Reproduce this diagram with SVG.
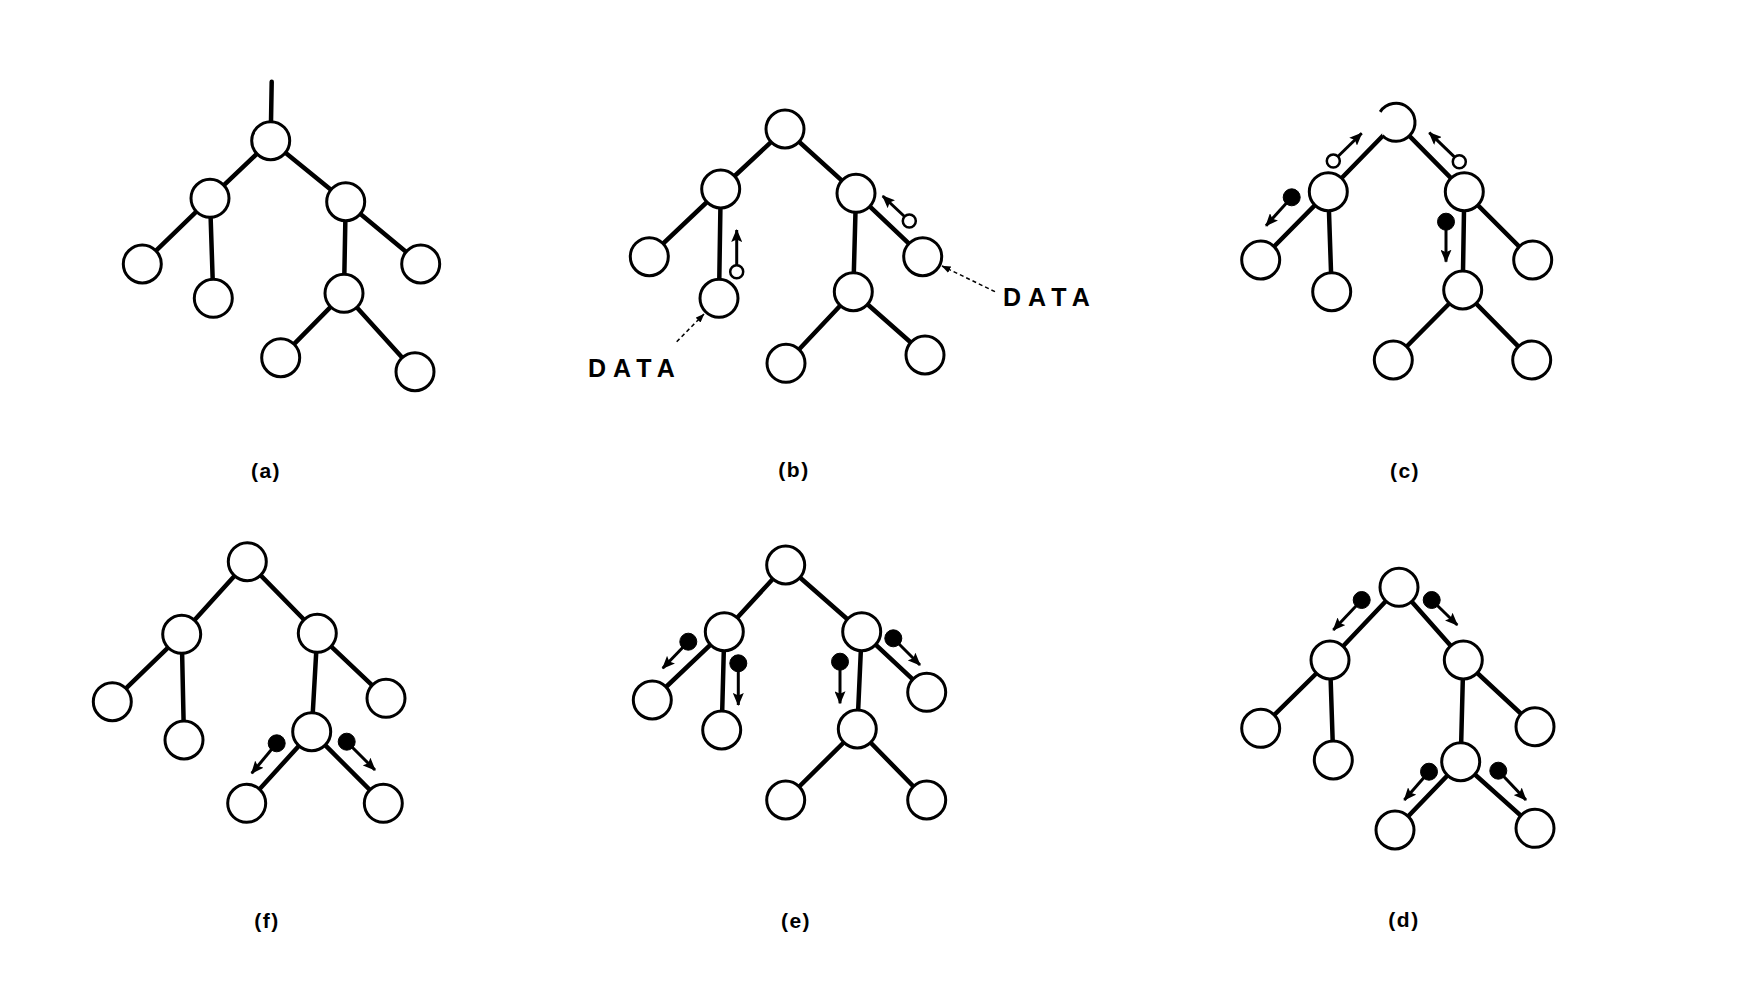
<svg xmlns="http://www.w3.org/2000/svg" width="1764" height="990" viewBox="0 0 1764 990">
<style>
.e{stroke:#000;stroke-width:4.5;stroke-linecap:round;fill:none}
.n{fill:#fff;stroke:#000;stroke-width:3}
.sh{stroke:#000;stroke-width:3;fill:none}
.o{fill:#fff;stroke:#000;stroke-width:2.5}
.f{fill:#000;stroke:#000;stroke-width:1}
.d{stroke:#000;stroke-width:1.5;stroke-dasharray:4 3;fill:none}
.lb{font-family:"Liberation Sans",Arial,sans-serif;font-weight:bold;font-size:21px;letter-spacing:1.5px;text-anchor:middle}
.dt{font-family:"Liberation Sans",Arial,sans-serif;font-weight:bold;font-size:25px;letter-spacing:7px}
</style>
<defs>
<marker id="ah" markerUnits="userSpaceOnUse" markerWidth="13" markerHeight="11" viewBox="0 0 13 11" refX="12" refY="5.5" orient="auto"><path d="M0,0 L13,5.5 L0,11 L2.5,5.5 z" fill="#000"/></marker>
<marker id="ahs" markerUnits="userSpaceOnUse" markerWidth="9" markerHeight="7" viewBox="0 0 9 7" refX="8.5" refY="3.5" orient="auto"><path d="M0,0 L9,3.5 L0,7 z" fill="#000"/></marker>
</defs>
<rect width="1764" height="990" fill="#fff"/>

<g id="connectors">
<!-- (a) -->
<line class="e" x1="271.7" y1="81.7" x2="271" y2="122"/>
<line class="e" x1="270.7" y1="140.7" x2="210" y2="198.3"/>
<line class="e" x1="270.7" y1="140.7" x2="345.7" y2="201.7"/>
<line class="e" x1="210" y1="198.3" x2="142.3" y2="264"/>
<line class="e" x1="210" y1="198.3" x2="213.3" y2="298.3"/>
<line class="e" x1="345.7" y1="201.7" x2="420.7" y2="264"/>
<line class="e" x1="345.7" y1="201.7" x2="344" y2="293.3"/>
<line class="e" x1="344" y1="293.3" x2="280.7" y2="357.7"/>
<line class="e" x1="344" y1="293.3" x2="415" y2="371.7"/>
<!-- (b) -->
<line class="e" x1="785" y1="129" x2="720.7" y2="189"/>
<line class="e" x1="785" y1="129" x2="856" y2="193.3"/>
<line class="e" x1="720.7" y1="189" x2="649.3" y2="256.7"/>
<line class="e" x1="720.7" y1="189" x2="719" y2="298.3"/>
<line class="e" x1="856" y1="193.3" x2="922.7" y2="256.7"/>
<line class="e" x1="856" y1="193.3" x2="853.3" y2="291.7"/>
<line class="e" x1="853.3" y1="291.7" x2="786" y2="363.3"/>
<line class="e" x1="853.3" y1="291.7" x2="925" y2="355"/>
<!-- (c) -->
<line class="e" x1="1396" y1="122.3" x2="1328.3" y2="191.7"/>
<line class="e" x1="1396" y1="122.3" x2="1464.3" y2="191.7"/>
<line class="e" x1="1328.3" y1="191.7" x2="1260.7" y2="260"/>
<line class="e" x1="1328.3" y1="191.7" x2="1331.7" y2="291.7"/>
<line class="e" x1="1464.3" y1="191.7" x2="1532.7" y2="260"/>
<line class="e" x1="1464.3" y1="191.7" x2="1462.7" y2="290"/>
<line class="e" x1="1462.7" y1="290" x2="1393.3" y2="360"/>
<line class="e" x1="1462.7" y1="290" x2="1531.7" y2="360"/>
<!-- (f) -->
<line class="e" x1="247.3" y1="561.7" x2="181.7" y2="634.3"/>
<line class="e" x1="247.3" y1="561.7" x2="317.3" y2="633.3"/>
<line class="e" x1="181.7" y1="634.3" x2="112.3" y2="701.7"/>
<line class="e" x1="181.7" y1="634.3" x2="184" y2="740"/>
<line class="e" x1="317.3" y1="633.3" x2="386" y2="698.3"/>
<line class="e" x1="317.3" y1="633.3" x2="311.7" y2="731.7"/>
<line class="e" x1="311.7" y1="731.7" x2="246.7" y2="803.3"/>
<line class="e" x1="311.7" y1="731.7" x2="383.3" y2="803.3"/>
<!-- (e) -->
<line class="e" x1="785.7" y1="565" x2="724.3" y2="631.7"/>
<line class="e" x1="785.7" y1="565" x2="861.7" y2="631.7"/>
<line class="e" x1="724.3" y1="631.7" x2="652.3" y2="700"/>
<line class="e" x1="724.3" y1="631.7" x2="721.7" y2="730"/>
<line class="e" x1="861.7" y1="631.7" x2="926.7" y2="692.3"/>
<line class="e" x1="861.7" y1="631.7" x2="857.3" y2="729"/>
<line class="e" x1="857.3" y1="729" x2="785.7" y2="800"/>
<line class="e" x1="857.3" y1="729" x2="926.7" y2="800"/>
<!-- (d) -->
<line class="e" x1="1399" y1="587.3" x2="1330" y2="660"/>
<line class="e" x1="1399" y1="587.3" x2="1463.3" y2="660"/>
<line class="e" x1="1330" y1="660" x2="1260.7" y2="728.3"/>
<line class="e" x1="1330" y1="660" x2="1333.3" y2="760"/>
<line class="e" x1="1463.3" y1="660" x2="1535" y2="726.7"/>
<line class="e" x1="1463.3" y1="660" x2="1460.7" y2="761.7"/>
<line class="e" x1="1460.7" y1="761.7" x2="1395" y2="830"/>
<line class="e" x1="1460.7" y1="761.7" x2="1535" y2="828.3"/>
<!-- DATA pointers -->
<line class="d" x1="995" y1="291.7" x2="942" y2="266" marker-end="url(#ahs)"/>
<line class="d" x1="676.7" y1="341.7" x2="704" y2="314" marker-end="url(#ahs)"/>
</g>

<!-- nodes (a) -->
<g id="a-root"><circle class="n" cx="270.7" cy="140.7" r="19"/></g>
<g id="a-l"><circle class="n" cx="210" cy="198.3" r="19"/></g>
<g id="a-r"><circle class="n" cx="345.7" cy="201.7" r="19"/></g>
<g id="a-ll"><circle class="n" cx="142.3" cy="264" r="19"/></g>
<g id="a-lb"><circle class="n" cx="213.3" cy="298.3" r="19"/></g>
<g id="a-rr"><circle class="n" cx="420.7" cy="264" r="19"/></g>
<g id="a-rb"><circle class="n" cx="344" cy="293.3" r="19"/></g>
<g id="a-rbl"><circle class="n" cx="280.7" cy="357.7" r="19"/></g>
<g id="a-rbr"><circle class="n" cx="415" cy="371.7" r="19"/></g>

<!-- nodes (b) -->
<g id="b-root"><circle class="n" cx="785" cy="129" r="19"/></g>
<g id="b-l"><circle class="n" cx="720.7" cy="189" r="19"/></g>
<g id="b-r"><circle class="n" cx="856" cy="193.3" r="19"/></g>
<g id="b-ll"><circle class="n" cx="649.3" cy="256.7" r="19"/></g>
<g id="b-lb"><circle class="n" cx="719" cy="298.3" r="19"/></g>
<g id="b-rr"><circle class="n" cx="922.7" cy="256.7" r="19"/></g>
<g id="b-rb"><circle class="n" cx="853.3" cy="291.7" r="19"/></g>
<g id="b-rbl"><circle class="n" cx="786" cy="363.3" r="19"/></g>
<g id="b-rbr"><circle class="n" cx="925" cy="355" r="19"/></g>

<!-- nodes (c) -->
<g id="c-root"><path class="n" d="M1380.2,111.8 A19,19 0 1 1 1382.3,135.5"/></g>
<g id="c-l"><circle class="n" cx="1328.3" cy="191.7" r="19"/></g>
<g id="c-r"><circle class="n" cx="1464.3" cy="191.7" r="19"/></g>
<g id="c-ll"><circle class="n" cx="1260.7" cy="260" r="19"/></g>
<g id="c-lb"><circle class="n" cx="1331.7" cy="291.7" r="19"/></g>
<g id="c-rr"><circle class="n" cx="1532.7" cy="260" r="19"/></g>
<g id="c-rb"><circle class="n" cx="1462.7" cy="290" r="19"/></g>
<g id="c-rbl"><circle class="n" cx="1393.3" cy="360" r="19"/></g>
<g id="c-rbr"><circle class="n" cx="1531.7" cy="360" r="19"/></g>

<!-- nodes (f) -->
<g id="f-root"><circle class="n" cx="247.3" cy="561.7" r="19"/></g>
<g id="f-l"><circle class="n" cx="181.7" cy="634.3" r="19"/></g>
<g id="f-r"><circle class="n" cx="317.3" cy="633.3" r="19"/></g>
<g id="f-ll"><circle class="n" cx="112.3" cy="701.7" r="19"/></g>
<g id="f-lb"><circle class="n" cx="184" cy="740" r="19"/></g>
<g id="f-rr"><circle class="n" cx="386" cy="698.3" r="19"/></g>
<g id="f-rb"><circle class="n" cx="311.7" cy="731.7" r="19"/></g>
<g id="f-rbl"><circle class="n" cx="246.7" cy="803.3" r="19"/></g>
<g id="f-rbr"><circle class="n" cx="383.3" cy="803.3" r="19"/></g>

<!-- nodes (e) -->
<g id="e-root"><circle class="n" cx="785.7" cy="565" r="19"/></g>
<g id="e-l"><circle class="n" cx="724.3" cy="631.7" r="19"/></g>
<g id="e-r"><circle class="n" cx="861.7" cy="631.7" r="19"/></g>
<g id="e-ll"><circle class="n" cx="652.3" cy="700" r="19"/></g>
<g id="e-lb"><circle class="n" cx="721.7" cy="730" r="19"/></g>
<g id="e-rr"><circle class="n" cx="926.7" cy="692.3" r="19"/></g>
<g id="e-rb"><circle class="n" cx="857.3" cy="729" r="19"/></g>
<g id="e-rbl"><circle class="n" cx="785.7" cy="800" r="19"/></g>
<g id="e-rbr"><circle class="n" cx="926.7" cy="800" r="19"/></g>

<!-- nodes (d) -->
<g id="d-root"><circle class="n" cx="1399" cy="587.3" r="19"/></g>
<g id="d-l"><circle class="n" cx="1330" cy="660" r="19"/></g>
<g id="d-r"><circle class="n" cx="1463.3" cy="660" r="19"/></g>
<g id="d-ll"><circle class="n" cx="1260.7" cy="728.3" r="19"/></g>
<g id="d-lb"><circle class="n" cx="1333.3" cy="760" r="19"/></g>
<g id="d-rr"><circle class="n" cx="1535" cy="726.7" r="19"/></g>
<g id="d-rb"><circle class="n" cx="1460.7" cy="761.7" r="19"/></g>
<g id="d-rbl"><circle class="n" cx="1395" cy="830" r="19"/></g>
<g id="d-rbr"><circle class="n" cx="1535" cy="828.3" r="19"/></g>

<!-- message tokens -->
<g id="tokens">
<g><line class="sh" x1="736.7" y1="271.7" x2="736.7" y2="230" marker-end="url(#ah)"/><circle class="o" cx="736.7" cy="271.7" r="6.5"/></g>
<g><line class="sh" x1="909.3" y1="221" x2="882.7" y2="196" marker-end="url(#ah)"/><circle class="o" cx="909.3" cy="221" r="6.5"/></g>
<g><line class="sh" x1="1333.3" y1="161" x2="1361.7" y2="133.3" marker-end="url(#ah)"/><circle class="o" cx="1333.3" cy="161" r="6.5"/></g>
<g><line class="sh" x1="1459.3" y1="161.7" x2="1429.3" y2="132.7" marker-end="url(#ah)"/><circle class="o" cx="1459.3" cy="161.7" r="6.5"/></g>
<g><line class="sh" x1="1291.7" y1="197.3" x2="1266" y2="225.7" marker-end="url(#ah)"/><circle class="f" cx="1291.7" cy="197.3" r="8.5"/></g>
<g><line class="sh" x1="1446" y1="221.7" x2="1446" y2="261.7" marker-end="url(#ah)"/><circle class="f" cx="1446" cy="221.7" r="8.5"/></g>
<g><line class="sh" x1="276.7" y1="743.3" x2="251.7" y2="773.3" marker-end="url(#ah)"/><circle class="f" cx="276.7" cy="743.3" r="8.5"/></g>
<g><line class="sh" x1="346.7" y1="741.7" x2="375" y2="770" marker-end="url(#ah)"/><circle class="f" cx="346.7" cy="741.7" r="8.5"/></g>
<g><line class="sh" x1="688.3" y1="641.7" x2="662.7" y2="668.3" marker-end="url(#ah)"/><circle class="f" cx="688.3" cy="641.7" r="8.5"/></g>
<g><line class="sh" x1="738.3" y1="663.3" x2="738.3" y2="705" marker-end="url(#ah)"/><circle class="f" cx="738.3" cy="663.3" r="8.5"/></g>
<g><line class="sh" x1="840" y1="661.7" x2="840" y2="703.3" marker-end="url(#ah)"/><circle class="f" cx="840" cy="661.7" r="8.5"/></g>
<g><line class="sh" x1="893.3" y1="638.3" x2="920" y2="665" marker-end="url(#ah)"/><circle class="f" cx="893.3" cy="638.3" r="8.5"/></g>
<g><line class="sh" x1="1361.7" y1="600" x2="1333.3" y2="630" marker-end="url(#ah)"/><circle class="f" cx="1361.7" cy="600" r="8.5"/></g>
<g><line class="sh" x1="1431.7" y1="600" x2="1457.3" y2="625" marker-end="url(#ah)"/><circle class="f" cx="1431.7" cy="600" r="8.5"/></g>
<g><line class="sh" x1="1429" y1="771.7" x2="1404.3" y2="800" marker-end="url(#ah)"/><circle class="f" cx="1429" cy="771.7" r="8.5"/></g>
<g><line class="sh" x1="1498.3" y1="770.7" x2="1526" y2="800" marker-end="url(#ah)"/><circle class="f" cx="1498.3" cy="770.7" r="8.5"/></g>
</g>

<!-- texts -->
<text class="dt" x="1003" y="306">DATA</text>
<text class="dt" x="588" y="377">DATA</text>
<text class="lb" x="266" y="478">(a)</text>
<text class="lb" x="794" y="477">(b)</text>
<text class="lb" x="1405" y="478">(c)</text>
<text class="lb" x="267" y="928">(f)</text>
<text class="lb" x="796" y="928">(e)</text>
<text class="lb" x="1404" y="927">(d)</text>
</svg>
